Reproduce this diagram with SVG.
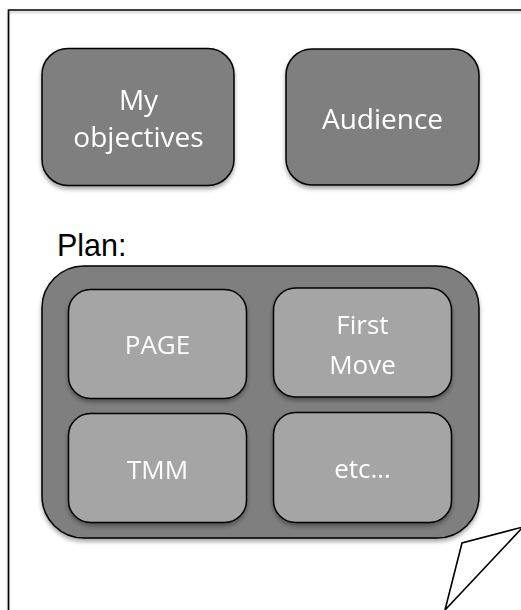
<svg xmlns="http://www.w3.org/2000/svg" width="521" height="610" viewBox="0 0 521 610">
  <defs>
    <filter id="shadow" x="-10%" y="-10%" width="120%" height="125%">
      <feDropShadow dx="0" dy="3" stdDeviation="2.2" flood-color="#000" flood-opacity="0.35"/>
    </filter>
    <filter id="lineShadow" x="-5%" y="-5%" width="110%" height="110%">
      <feDropShadow dx="0" dy="2" stdDeviation="1.2" flood-color="#000" flood-opacity="0.25"/>
    </filter>
  </defs>
  <style>
    .edge { fill: none; stroke: #000; stroke-width: 1.6; }
    .dark { fill: #7f7f7f; stroke: #000; stroke-width: 1.5; }
    .light { fill: #a5a5a5; stroke: #000; stroke-width: 1.5; }
    .label { font-family: "Open Sans", "Noto Sans", sans-serif; fill: #ffffff; text-anchor: middle; }
    .big { font-size: 28px; }
    .small { font-size: 26px; }
    .title { font-family: "Liberation Sans", Arial, sans-serif; font-size: 30.5px; fill: #000; }
    .curl { fill: #ffffff; stroke: #000; stroke-width: 1.6; stroke-linejoin: miter; }
  </style>

  <rect width="521" height="610" fill="#ffffff"/>

  <!-- sheet of paper with a curled corner -->
  <g id="page">
    <path class="edge" d="M8.5 612 L8.5 10 L523 10" filter="url(#lineShadow)"/>
    <path class="curl" d="M445 610 L462 543 L523 527 Z"/>
  </g>

  <g id="objectives" filter="url(#shadow)">
    <rect class="dark" x="42" y="48.5" width="192" height="137" rx="26"/>
    <text class="label big" x="138.5" y="109.5">My</text>
    <text class="label big" x="138.5" y="146.5">objectives</text>
  </g>

  <g id="audience" filter="url(#shadow)">
    <rect class="dark" x="286" y="49" width="193" height="136" rx="26"/>
    <text class="label big" x="382.5" y="129.3">Audience</text>
  </g>

  <g id="plan-title">
    <text class="title" x="57" y="256">Plan:</text>
  </g>

  <g id="plan" filter="url(#shadow)">
    <rect class="dark" x="42" y="266" width="437" height="272" rx="42"/>
  </g>

  <g id="page-step" filter="url(#shadow)">
    <rect class="light" x="68.5" y="289.5" width="178" height="109" rx="22"/>
    <text class="label small" x="157.5" y="354.3">PAGE</text>
  </g>

  <g id="first-move" filter="url(#shadow)">
    <rect class="light" x="273.5" y="288" width="178" height="109" rx="22"/>
    <text class="label small" x="362.5" y="334">First</text>
    <text class="label small" x="362.5" y="374">Move</text>
  </g>

  <g id="tmm" filter="url(#shadow)">
    <rect class="light" x="68.5" y="413.5" width="178" height="109" rx="22"/>
    <text class="label small" x="157.5" y="479.3">TMM</text>
  </g>

  <g id="etc" filter="url(#shadow)">
    <rect class="light" x="273.5" y="412.5" width="178" height="110" rx="22"/>
    <text class="label small" x="362.5" y="477.7">etc…</text>
  </g>

  <g id="connectors"></g>
</svg>
